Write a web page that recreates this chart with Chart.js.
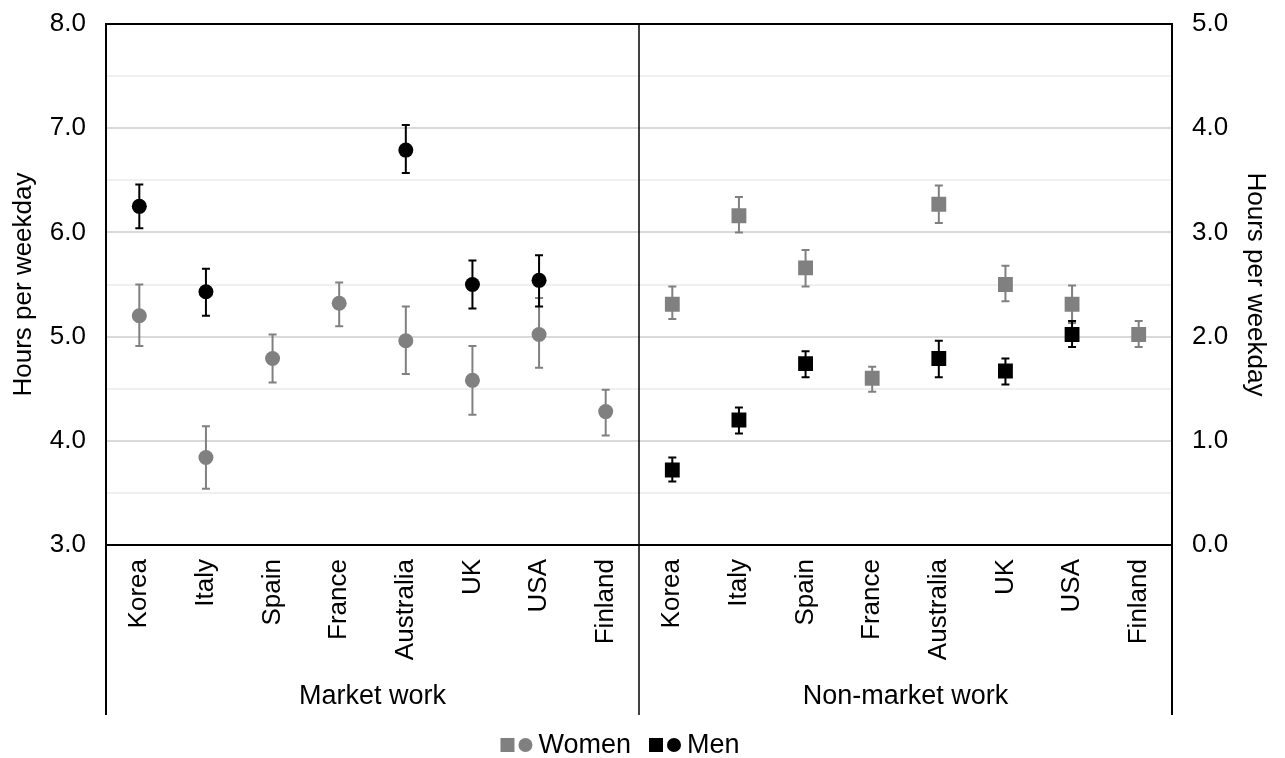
<!DOCTYPE html>
<html>
<head>
<meta charset="utf-8">
<script src="https://cdn.jsdelivr.net/npm/chart.js@4.4.1/dist/chart.umd.min.js"></script>
<style>
    html, body { margin: 0; padding: 0; background: #fff; }
    #wrap { width: 1285px; height: 758px; }
</style>
</head>
<body>
<div id="wrap"><canvas id="chart" width="1285" height="758"></canvas></div>
<script>
const countries = ['Korea', 'Italy', 'Spain', 'France', 'Australia', 'UK', 'USA', 'Finland'];
const groups = ['Market work', 'Non-market work'];

// Market work (left axis), hours per weekday
const marketWomen   = [5.20, 3.84, 4.79, 5.32, 4.96, 4.58, 5.02, 4.28];
const marketWomenLo = [4.91, 3.54, 4.56, 5.10, 4.64, 4.25, 4.70, 4.05];
const marketWomenHi = [5.50, 4.14, 5.02, 5.52, 5.29, 4.91, 5.37, 4.49];
const marketMen     = [6.25, 5.43, null, null, 6.79, 5.50, 5.54, null];
const marketMenLo   = [6.04, 5.20, null, null, 6.57, 5.27, 5.29, null];
const marketMenHi   = [6.46, 5.65, null, null, 7.03, 5.73, 5.78, null];

// Non-market work (right axis)
const nonMarketWomen   = [2.31, 3.16, 2.66, 1.60, 3.27, 2.50, 2.31, 2.02];
const nonMarketWomenLo = [2.17, 3.00, 2.48, 1.47, 3.09, 2.34, 2.13, 1.90];
const nonMarketWomenHi = [2.48, 3.34, 2.83, 1.71, 3.45, 2.68, 2.49, 2.15];
const nonMarketMen     = [0.72, 1.20, 1.74, null, 1.79, 1.67, 2.02, null];
const nonMarketMenLo   = [0.61, 1.07, 1.61, null, 1.61, 1.54, 1.90, null];
const nonMarketMenHi   = [0.84, 1.32, 1.86, null, 1.96, 1.79, 2.15, null];

const GRAY = '#808080';
const BLACK = '#000000';
const FONT = "'Liberation Sans', Arial, sans-serif";

const blanks = countries.map(() => null);
const first = arr => arr.concat(blanks);
const second = arr => blanks.concat(arr);

function series(label, values, lo, hi, color, style, axis, placeFn) {
    return {
        label: label,
        data: placeFn(values),
        errLo: placeFn(lo),
        errHi: placeFn(hi),
        yAxisID: axis,
        showLine: false,
        borderColor: color,
        backgroundColor: color,
        pointBackgroundColor: color,
        pointBorderColor: color,
        pointBorderWidth: 0,
        pointStyle: style,
        pointRadius: style === 'rect' ? 10.5 : 7.5,
        pointHoverRadius: style === 'rect' ? 10.5 : 7.5
    };
}

// Draws the error bars from the lo/hi arrays, below the markers
const errorBars = {
    id: 'errorBars',
    beforeDatasetsDraw(chart) {
        const ctx = chart.ctx;
        chart.data.datasets.forEach((ds, di) => {
            const meta = chart.getDatasetMeta(di);
            const scale = chart.scales[ds.yAxisID];
            ctx.save();
            ctx.strokeStyle = ds.borderColor;
            ctx.lineWidth = 2;
            ds.data.forEach((v, i) => {
                if (v == null) return;
                const x = meta.data[i].x;
                const yTop = scale.getPixelForValue(ds.errHi[i]);
                const yBot = scale.getPixelForValue(ds.errLo[i]);
                ctx.beginPath();
                ctx.moveTo(x, yTop); ctx.lineTo(x, yBot);
                ctx.moveTo(x - 4, yTop); ctx.lineTo(x + 4, yTop);
                ctx.moveTo(x - 4, yBot); ctx.lineTo(x + 4, yBot);
                ctx.stroke();
            });
            ctx.restore();
        });
    }
};

// Frame, group separators, group labels and legend
const decorations = {
    id: 'decorations',
    afterDraw(chart) {
        const ctx = chart.ctx;
        const { left, right, top, bottom } = chart.chartArea;
        const xs = chart.scales.x;
        const n = countries.length;
        const mid = (xs.getPixelForValue(n - 1) + xs.getPixelForValue(n)) / 2;
        const lineEnd = bottom + 170;

        ctx.save();
        ctx.strokeStyle = BLACK;
        ctx.lineWidth = 2;
        ctx.beginPath();
        ctx.moveTo(left, top); ctx.lineTo(right, top);
        ctx.moveTo(left, top); ctx.lineTo(left, lineEnd);
        ctx.moveTo(right, top); ctx.lineTo(right, lineEnd);
        ctx.stroke();
        ctx.lineWidth = 1.5;
        ctx.beginPath();
        ctx.moveTo(mid, top); ctx.lineTo(mid, lineEnd);
        ctx.stroke();

        // group labels
        ctx.fillStyle = BLACK;
        ctx.font = '27px ' + FONT;
        ctx.textAlign = 'center';
        ctx.textBaseline = 'middle';
        ctx.fillText(groups[0], (left + mid) / 2, bottom + 152);
        ctx.fillText(groups[1], (mid + right) / 2, bottom + 152);

        // legend
        const items = [{ text: 'Women', color: GRAY }, { text: 'Men', color: BLACK }];
        const ly = bottom + 200;
        ctx.font = '27px ' + FONT;
        ctx.textAlign = 'left';
        const widths = items.map(it => 14 + 4 + 14 + 6 + ctx.measureText(it.text).width);
        const total = widths.reduce((a, b) => a + b, 0) + 18;
        let x = 620 - total / 2;
        items.forEach((it, k) => {
            ctx.fillStyle = it.color;
            ctx.fillRect(x, ly - 7, 14, 14);
            ctx.beginPath();
            ctx.arc(x + 18 + 7, ly, 7, 0, Math.PI * 2);
            ctx.fill();
            ctx.fillStyle = BLACK;
            ctx.fillText(it.text, x + 38, ly + 1);
            x += widths[k] + 18;
        });
        ctx.restore();
    }
};

const labels = countries.concat(countries);

new Chart(document.getElementById('chart').getContext('2d'), {
    type: 'line',
    data: {
        labels: labels,
        datasets: [
            series('Women', marketWomen, marketWomenLo, marketWomenHi, GRAY, 'circle', 'y', first),
            series('Men', marketMen, marketMenLo, marketMenHi, BLACK, 'circle', 'y', first),
            series('Women', nonMarketWomen, nonMarketWomenLo, nonMarketWomenHi, GRAY, 'rect', 'y2', second),
            series('Men', nonMarketMen, nonMarketMenLo, nonMarketMenHi, BLACK, 'rect', 'y2', second)
        ]
    },
    options: {
        responsive: false,
        animation: false,
        layout: { padding: { top: 24, left: 0, right: 0, bottom: 0 } },
        plugins: {
            legend: { display: false },
            tooltip: { enabled: false }
        },
        scales: {
            x: {
                offset: true,
                grid: { display: false, drawTicks: false },
                border: { color: BLACK, width: 2 },
                ticks: {
                    autoSkip: false,
                    maxRotation: 90,
                    minRotation: 90,
                    padding: 14,
                    color: BLACK,
                    font: { family: FONT, size: 26 }
                },
                afterFit(scale) { scale.height = 213; }
            },
            y: {
                position: 'left',
                min: 3,
                max: 8,
                border: { color: BLACK, width: 2 },
                grid: {
                    drawTicks: false,
                    lineWidth: 2,
                    color: c => (c.tick && Math.abs(c.tick.value % 1) < 1e-6) ? '#d9d9d9' : '#f0f0f0'
                },
                ticks: {
                    stepSize: 0.5,
                    padding: 20,
                    color: BLACK,
                    font: { family: FONT, size: 26 },
                    callback: v => (Math.abs(v % 1) < 1e-6 ? v.toFixed(1) : '')
                },
                title: {
                    display: true,
                    text: 'Hours per weekday',
                    color: BLACK,
                    padding: { top: 8, bottom: 0 },
                    font: { family: FONT, size: 26 }
                },
                afterFit(scale) {
                    scale.width = 106;
                    scale.paddingTop = 0;
                    scale.paddingBottom = 0;
                }
            },
            y2: {
                position: 'right',
                min: 0,
                max: 5,
                border: { color: BLACK, width: 2 },
                grid: { display: false, drawTicks: false },
                ticks: {
                    stepSize: 0.5,
                    padding: 20,
                    color: BLACK,
                    font: { family: FONT, size: 26 },
                    callback: v => (Math.abs(v % 1) < 1e-6 ? v.toFixed(1) : '')
                },
                title: {
                    display: true,
                    text: 'Hours per weekday',
                    color: BLACK,
                    padding: { top: 14, bottom: 0 },
                    font: { family: FONT, size: 26 }
                },
                afterFit(scale) {
                    scale.width = 113;
                    scale.paddingTop = 0;
                    scale.paddingBottom = 0;
                }
            }
        }
    },
    plugins: [errorBars, decorations]
});
</script>
</body>
</html>
